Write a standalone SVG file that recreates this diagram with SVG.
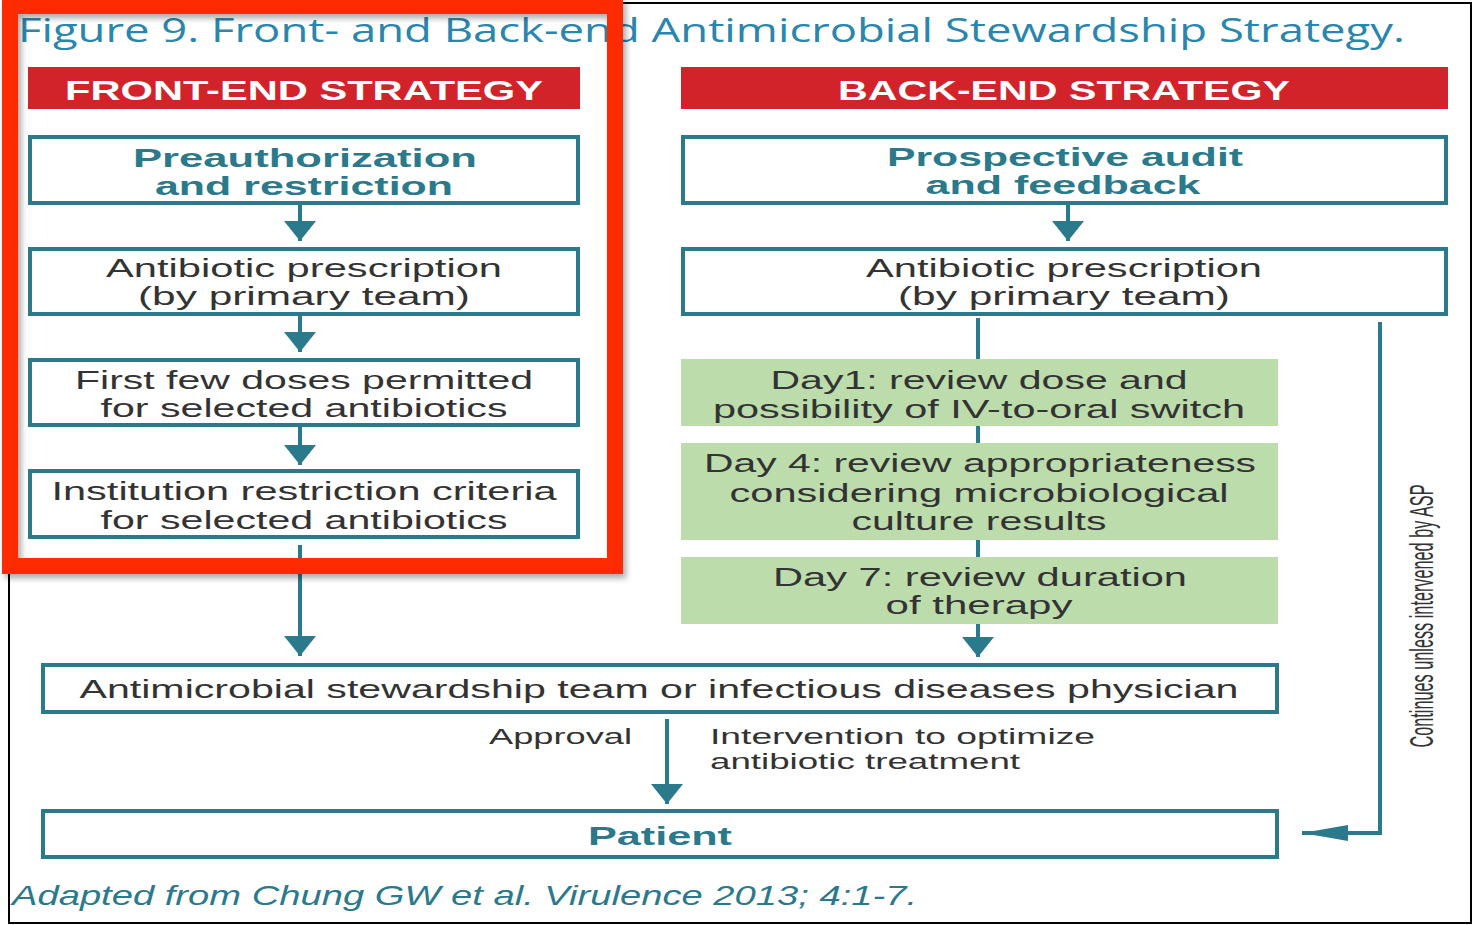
<svg xmlns="http://www.w3.org/2000/svg" width="1473" height="925" viewBox="0 0 1473 925">
<style>
.box{fill:#fff;stroke:#2b7a8c;stroke-width:4}
.green{fill:#bcdcac;stroke:none}
.hdr{fill:#d2232a}
.hdrt{font-family:"Liberation Sans",Arial,sans-serif;font-weight:bold;font-size:28px;fill:#fff;text-anchor:middle}
.bt{font-family:"Liberation Sans",Arial,sans-serif;font-weight:bold;font-size:25px;fill:#2b7a8c;text-anchor:middle}
.t{font-family:"Liberation Sans",Arial,sans-serif;font-size:25px;fill:#333;text-anchor:middle}
.n{font-family:"Liberation Sans Narrow","Liberation Sans",sans-serif;font-size:22px;fill:#333}
.con{stroke:#2b7a8c;stroke-width:4;fill:none}
</style>
<defs>
<marker id="ah" markerUnits="userSpaceOnUse" markerWidth="20" markerHeight="32" viewBox="0 0 20 32" refX="20" refY="16" orient="auto">
<path d="M0,0 L20,16 L0,32 z" fill="#2b7a8c"/>
</marker>
<marker id="ah2" markerUnits="userSpaceOnUse" markerWidth="46" markerHeight="16" viewBox="0 0 46 16" refX="46" refY="8" orient="auto">
<path d="M0,0 L46,8 L0,16 z" fill="#2b7a8c"/>
</marker>
<filter id="sh" x="-5%" y="-5%" width="110%" height="110%">
<feDropShadow dx="3" dy="4" stdDeviation="3" flood-color="#000" flood-opacity="0.35"/>
</filter>
</defs>
<rect x="0" y="0" width="1473" height="925" fill="#fff"/>
<rect x="9" y="3" width="1462" height="920" fill="none" stroke="#000" stroke-width="2"/>
<text x="18" y="42" font-family="Open Sans, Liberation Sans, sans-serif" font-size="33" fill="#2a86ad" textLength="1387" lengthAdjust="spacingAndGlyphs">Figure 9. Front- and Back-end Antimicrobial Stewardship Strategy.</text>

<g id="connectors">
<line class="con" x1="300" y1="204" x2="300" y2="241" marker-end="url(#ah)"/>
<line class="con" x1="300" y1="315" x2="300" y2="352" marker-end="url(#ah)"/>
<line class="con" x1="300" y1="426" x2="300" y2="465" marker-end="url(#ah)"/>
<line class="con" x1="300" y1="545" x2="300" y2="656" marker-end="url(#ah)"/>
<line class="con" x1="1068" y1="204" x2="1068" y2="241" marker-end="url(#ah)"/>
<line class="con" x1="978" y1="318" x2="978" y2="657" marker-end="url(#ah)"/>
<line class="con" x1="667" y1="719" x2="667" y2="804" marker-end="url(#ah)"/>
<path class="con" d="M1380,322 V833 H1302" marker-end="url(#ah2)"/>
</g>

<g id="front-header"><rect class="hdr" x="28" y="67" width="552" height="42"/><text class="hdrt" x="304" y="100" textLength="478" lengthAdjust="spacingAndGlyphs">FRONT-END STRATEGY</text></g>
<g id="back-header"><rect class="hdr" x="681" y="67" width="767" height="42"/><text class="hdrt" x="1064" y="100" textLength="452" lengthAdjust="spacingAndGlyphs">BACK-END STRATEGY</text></g>

<g id="preauth"><rect class="box" x="30" y="137" width="548" height="66"/>
<text class="bt" x="305" y="167" textLength="344" lengthAdjust="spacingAndGlyphs">Preauthorization</text>
<text class="bt" x="304" y="195" textLength="298" lengthAdjust="spacingAndGlyphs">and restriction</text></g>
<g id="front-rx"><rect class="box" x="30" y="249" width="548" height="65"/>
<text class="t" x="304" y="277" textLength="396" lengthAdjust="spacingAndGlyphs">Antibiotic prescription</text>
<text class="t" x="304" y="305" textLength="332" lengthAdjust="spacingAndGlyphs">(by primary team)</text></g>
<g id="first-doses"><rect class="box" x="30" y="360" width="548" height="65"/>
<text class="t" x="304" y="389" textLength="458" lengthAdjust="spacingAndGlyphs">First few doses permitted</text>
<text class="t" x="304" y="417" textLength="407" lengthAdjust="spacingAndGlyphs">for selected antibiotics</text></g>
<g id="institution"><rect class="box" x="30" y="471" width="548" height="66"/>
<text class="t" x="304" y="500" textLength="505" lengthAdjust="spacingAndGlyphs">Institution restriction criteria</text>
<text class="t" x="304" y="529" textLength="407" lengthAdjust="spacingAndGlyphs">for selected antibiotics</text></g>

<g id="prospective"><rect class="box" x="683" y="137" width="763" height="66"/>
<text class="bt" x="1065" y="166" textLength="356" lengthAdjust="spacingAndGlyphs">Prospective audit</text>
<text class="bt" x="1063" y="194" textLength="275" lengthAdjust="spacingAndGlyphs">and feedback</text></g>
<g id="back-rx"><rect class="box" x="683" y="249" width="763" height="65"/>
<text class="t" x="1064" y="277" textLength="396" lengthAdjust="spacingAndGlyphs">Antibiotic prescription</text>
<text class="t" x="1064" y="305" textLength="332" lengthAdjust="spacingAndGlyphs">(by primary team)</text></g>
<g id="day1"><rect class="green" x="681" y="359" width="597" height="67"/>
<text class="t" x="979" y="389" textLength="417" lengthAdjust="spacingAndGlyphs">Day1: review dose and</text>
<text class="t" x="979" y="418" textLength="532" lengthAdjust="spacingAndGlyphs">possibility of IV-to-oral switch</text></g>
<g id="day4"><rect class="green" x="681" y="443" width="597" height="97"/>
<text class="t" x="980" y="472" textLength="552" lengthAdjust="spacingAndGlyphs">Day 4: review appropriateness</text>
<text class="t" x="979" y="502" textLength="499" lengthAdjust="spacingAndGlyphs">considering microbiological</text>
<text class="t" x="979" y="530" textLength="255" lengthAdjust="spacingAndGlyphs">culture results</text></g>
<g id="day7"><rect class="green" x="681" y="557" width="597" height="67"/>
<text class="t" x="980" y="586" textLength="414" lengthAdjust="spacingAndGlyphs">Day 7: review duration</text>
<text class="t" x="979" y="614" textLength="187" lengthAdjust="spacingAndGlyphs">of therapy</text></g>

<g id="ast"><rect class="box" x="43" y="665" width="1234" height="47"/>
<text class="t" x="659" y="698" textLength="1159" lengthAdjust="spacingAndGlyphs">Antimicrobial stewardship team or infectious diseases physician</text></g>
<g id="labels">
<text class="n" x="632" y="744" text-anchor="end" textLength="143" lengthAdjust="spacingAndGlyphs">Approval</text>
<text class="n" x="710" y="744" textLength="385" lengthAdjust="spacingAndGlyphs">Intervention to optimize</text>
<text class="n" x="710" y="769" textLength="310" lengthAdjust="spacingAndGlyphs">antibiotic treatment</text>
<text class="n" transform="translate(1433,616) rotate(-90)" text-anchor="middle" style="font-size:34px" textLength="263" lengthAdjust="spacingAndGlyphs">Continues unless intervened by ASP</text>
</g>
<g id="patient"><rect class="box" x="43" y="811" width="1234" height="46"/>
<text class="bt" x="660" y="845" textLength="144" lengthAdjust="spacingAndGlyphs">Patient</text></g>

<text x="12" y="905" font-family="Liberation Sans Narrow, Liberation Sans, sans-serif" font-style="italic" font-size="28" fill="#2b7a8c" textLength="905" lengthAdjust="spacingAndGlyphs">Adapted from Chung GW et al. Virulence 2013; 4:1-7.</text>

<rect x="10" y="6" width="605" height="560" fill="none" stroke="#fe2a06" stroke-width="16" filter="url(#sh)"/>
</svg>
